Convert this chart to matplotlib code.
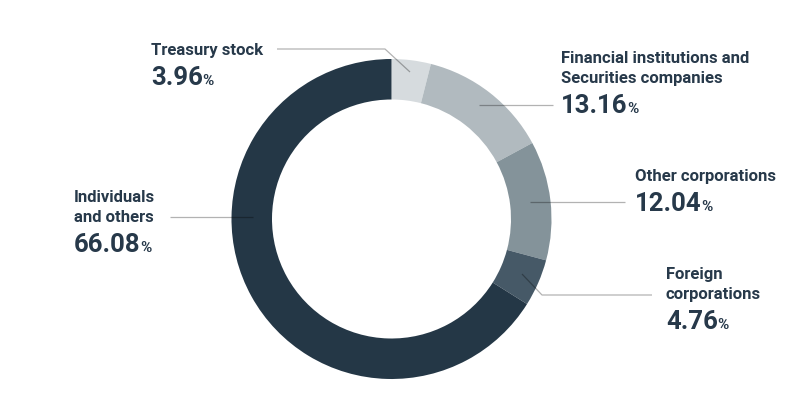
import matplotlib.pyplot as plt

# shareholder composition, clockwise from 12 o'clock
categories = [
    ["Treasury stock"],
    ["Financial institutions and", "Securities companies"],
    ["Other corporations"],
    ["Foreign", "corporations"],
    ["Individuals", "and others"],
]
shares = [3.96, 13.16, 12.04, 4.76, 66.08]
colors = ["#d6dbde", "#b1babf", "#84939a", "#465967", "#243746"]

W, H = 791, 406
TEXT = "#27394a"
plt.rcParams["font.family"] = ["Roboto", "DejaVu Sans"]

# label layout in pixel coordinates (x, first baseline y)
label_pos = [(151, 55), (561, 63), (635, 181), (666, 279), (74, 202)]
# leader lines (pixel coordinates)
leaders = [
    [(277, 50), (385, 50), (410, 73)],
    [(479, 106), (553, 106)],
    [(530, 203), (625, 203)],
    [(522, 275), (542, 296), (652, 296)],
    [(170, 218), (253, 218)],
]


def py(y):
    return H - y


fig = plt.figure(figsize=(W / 100, H / 100), dpi=100)
ax = fig.add_axes([0, 0, 1, 1])

ax.pie(shares, colors=colors, startangle=90, counterclock=False,
       center=(391.5, py(220)), radius=160,
       wedgeprops=dict(width=40.5, linewidth=0))

ax.set_xlim(0, W)
ax.set_ylim(0, H)
ax.set_aspect("equal")
ax.axis("off")

for pts in leaders:
    ax.plot([p[0] for p in pts], [py(p[1]) for p in pts],
            color="black", alpha=0.3, lw=0.9, solid_capstyle="butt")

nums = []
for lines, share, (x, y) in zip(categories, shares, label_pos):
    for i, line in enumerate(lines):
        ax.text(x, py(y + 20 * i), line, fontsize=12, fontweight="bold",
                color=TEXT, va="baseline", ha="left")
    yb = y + 20 * (len(lines) - 1) + 30
    t = ax.text(x, py(yb), f"{share:.2f}", fontsize=18.5, fontweight="bold",
                color=TEXT, va="baseline", ha="left")
    nums.append((t, yb))

fig.canvas.draw()
for t, yb in nums:
    bb = t.get_window_extent()
    ax.text(bb.x1 - 0.5, py(yb), "%", fontsize=11, fontweight="bold",
            color=TEXT, va="baseline", ha="left")

fig.savefig("out.png", dpi=100)
